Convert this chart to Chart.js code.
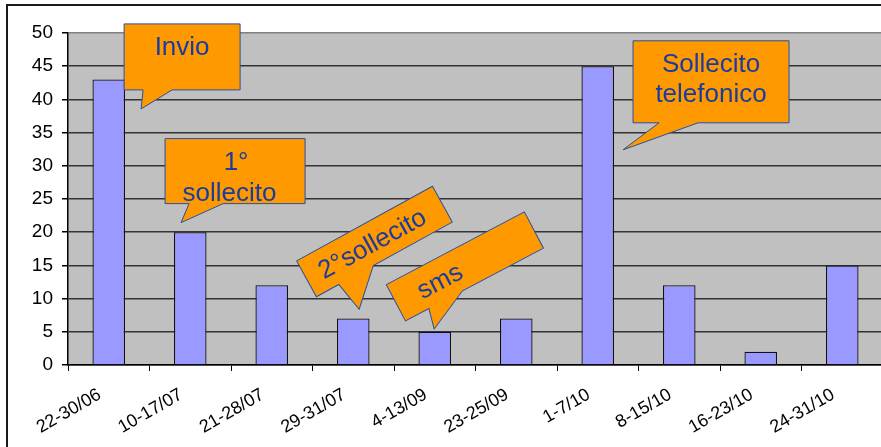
<!DOCTYPE html>
<html>
<head>
<meta charset="utf-8">
<script src="https://cdn.jsdelivr.net/npm/chart.js@4/dist/chart.umd.min.js"></script>
<style>
  html, body { margin: 0; padding: 0; background: #fff; width: 881px; height: 447px; overflow: hidden; }
  canvas { display: block; }
</style>
</head>
<body>
<canvas id="chart" width="890" height="447"></canvas>
<script>
// Periods and number of replies received in each
const periods = ['22-30/06', '10-17/07', '21-28/07', '29-31/07', '4-13/09', '23-25/09', '1-7/10', '8-15/10', '16-23/10', '24-31/10'];
const replies = [43, 20, 12, 7, 5, 7, 45, 12, 2, 15];
const yMin = 0;
const yMax = 50;
const yStep = 5;

// Speech-bubble notes marking each contact action
const noteTexts = [
  ['Invio'],
  ['1°', 'sollecito'],
  ['2°sollecito'],
  ['sms'],
  ['Sollecito', 'telefonico']
];

// Bubble layout: anchor in (category, value) units, box size in px, rotation,
// tail [baseLeftX, baseRightX, tipX, tipY] and text lines [dx, baselineY] in local px
const noteLayout = [
  { at: [0.90, 46.4], w: 116, h: 66, angle: 0,     tail: [-39, -10, -41, 52], lines: [[0, -2]] },
  { at: [1.55, 29.2], w: 140, h: 65, angle: 0,     tail: [-46, -12, -54, 51.5], lines: [[1, -1.5], [-5.5, 29.5]] },
  { at: [3.26, 18.6], w: 155, h: 41, angle: -28.8, tail: [-52, -12.6, -46, 52], lines: [[-3, 9]] },
  { at: [4.37, 14.85], w: 156, h: 41, angle: -27.8, tail: [-51.5, -13.5, -56.4, 41], lines: [[-29, 9.5]] },
  { at: [7.39, 42.65], w: 156, h: 82, angle: 0,    tail: [-52, -13, -88, 68], lines: [[0, -10], [0, 20]] }
];

const FONT = '"Liberation Sans", Arial, sans-serif';

const frame = {
  id: 'frame',
  beforeDraw(chart) {
    const { ctx, chartArea: a } = chart;
    ctx.save();
    ctx.fillStyle = '#ffffff';
    ctx.fillRect(0, 0, chart.width, chart.height);
    ctx.strokeStyle = '#1a1a1a';
    ctx.lineWidth = 2;
    ctx.strokeRect(7, 5, chart.width + 20, chart.height + 20);
    ctx.fillStyle = '#c0c0c0';
    ctx.fillRect(a.left, a.top, a.right - a.left, a.bottom - a.top);
    ctx.restore();
  }
};

const bubbles = {
  id: 'bubbles',
  afterDraw(chart) {
    const { ctx } = chart;
    const xs = chart.scales.x, ys = chart.scales.y;
    noteLayout.forEach((n, k) => {
      const cx = xs.getPixelForValue(n.at[0]);
      const cy = ys.getPixelForValue(n.at[1]);
      const hw = n.w / 2, hh = n.h / 2;
      const [b1, b2, tx, ty] = n.tail;
      ctx.save();
      ctx.translate(cx, cy);
      ctx.rotate(n.angle * Math.PI / 180);
      ctx.beginPath();
      ctx.moveTo(-hw, -hh);
      ctx.lineTo(hw, -hh);
      ctx.lineTo(hw, hh);
      ctx.lineTo(b2, hh);
      ctx.lineTo(tx, ty);
      ctx.lineTo(b1, hh);
      ctx.lineTo(-hw, hh);
      ctx.closePath();
      ctx.fillStyle = '#ff9900';
      ctx.fill();
      ctx.strokeStyle = '#2a4f9e';
      ctx.lineWidth = 1;
      ctx.stroke();
      ctx.fillStyle = '#1a3c9e';
      ctx.font = '26px ' + FONT;
      ctx.textAlign = 'center';
      ctx.textBaseline = 'alphabetic';
      noteTexts[k].forEach((t, i) => {
        const [dx, by] = n.lines[i];
        ctx.fillText(t, dx, by);
      });
      ctx.restore();
    });
  }
};

new Chart(document.getElementById('chart'), {
  type: 'bar',
  data: {
    labels: periods,
    datasets: [{
      data: replies,
      backgroundColor: '#9999ff',
      borderColor: '#111111',
      borderWidth: 1.3,
      categoryPercentage: 1,
      barPercentage: 0.4
    }]
  },
  options: {
    responsive: false,
    animation: false,
    devicePixelRatio: 1,
    layout: { padding: { left: 0, top: 33, right: 7, bottom: 0 } },
    plugins: { legend: { display: false }, tooltip: { enabled: false } },
    scales: {
      x: {
        offset: true,
        grid: { drawOnChartArea: false, offset: true, tickLength: 6, tickColor: '#000', lineWidth: 1 },
        border: { color: '#000', width: 1.5 },
        ticks: {
          color: '#000',
          font: { family: FONT, size: 18 },
          minRotation: 30,
          maxRotation: 30,
          autoSkip: false,
          padding: 13,
          labelOffset: -9
        },
        afterFit(s) { s.height = 82; }
      },
      y: {
        min: yMin,
        max: yMax,
        grid: {
          color: ctx => (ctx.tick && ctx.tick.value === yMax ? '#808080' : '#333333'),
          tickColor: '#000',
          tickLength: 6,
          lineWidth: 1.5
        },
        border: { color: '#000', width: 1.5 },
        ticks: {
          stepSize: yStep,
          color: '#000',
          font: { family: FONT, size: 19 },
          padding: 9
        },
        afterFit(s) { s.width = 68; }
      }
    }
  },
  plugins: [frame, bubbles]
});
</script>
</body>
</html>
